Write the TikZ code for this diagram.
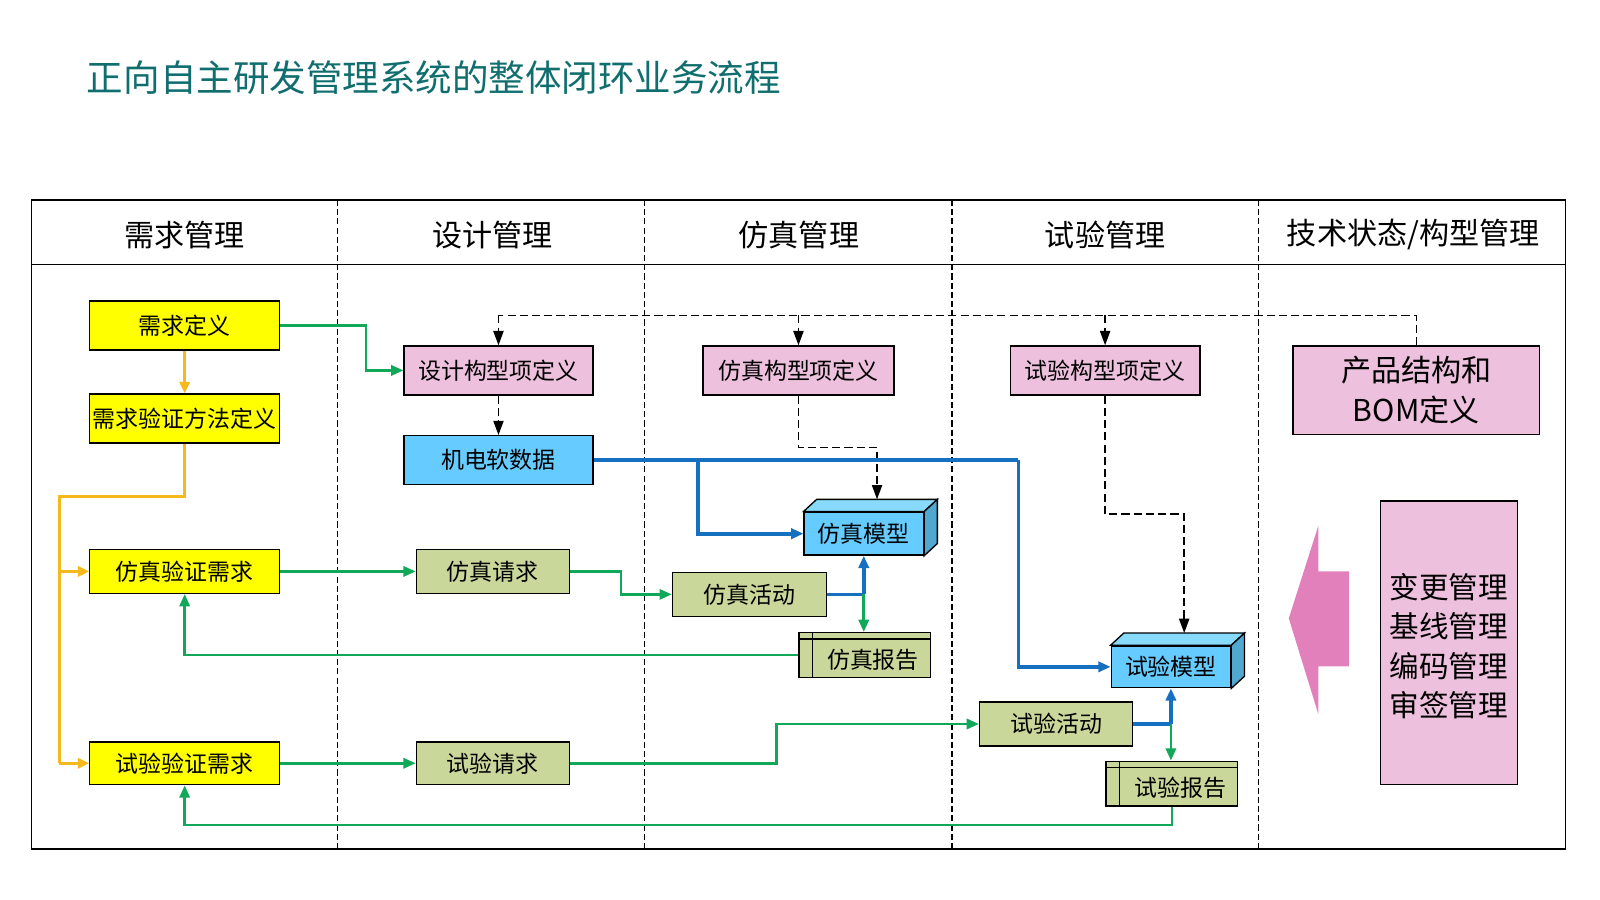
\documentclass[tikz,border=0pt]{standalone}
\usepackage{fontspec}
\setmainfont{Noto Sans CJK SC}
\usetikzlibrary{arrows.meta,calc}
\newcommand\fsz[1]{\fontsize{#1}{#1}\selectfont}
\definecolor{yelc}{RGB}{255,255,0}
\definecolor{pinkc}{RGB}{237,192,221}
\definecolor{bluec}{RGB}{102,204,255}
\definecolor{bluetop}{RGB}{135,218,250}
\definecolor{blueside}{RGB}{80,168,208}
\definecolor{grnc}{RGB}{201,215,155}
\definecolor{grnl}{RGB}{18,168,90}
\definecolor{orgl}{RGB}{245,185,30}
\definecolor{blul}{RGB}{22,112,192}
\definecolor{titlec}{RGB}{16,110,110}
\definecolor{bigarrow}{RGB}{226,128,188}
\tikzset{
  boxs/.style={draw=black,line width=1.3pt,inner sep=0pt,font=\fsz{22.5}},
  ybox/.style={boxs,fill=yelc},
  pbox/.style={boxs,fill=pinkc},
  bbox/.style={boxs,fill=bluec},
  gbox/.style={boxs,fill=grnc},
  repbox/.style={gbox,text height=28pt},
  hdr/.style={inner sep=0pt,font=\fsz{29.5}},
  gline/.style={draw=grnl,line width=2.6pt},
  garr/.style={gline,-{Triangle[length=12pt,width=10pt]}},
  oline/.style={draw=orgl,line width=3pt},
  oarr/.style={oline,-{Triangle[length=11pt,width=10pt]}},
  bline/.style={draw=blul,line width=3.6pt},
  barr/.style={bline,-{Triangle[length=12pt,width=10pt]}},
  dline/.style={draw=black,line width=1.4pt,dash pattern=on 8pt off 4pt},
  darr/.style={dline,-{Triangle[length=14pt,width=10pt]}},
  divl/.style={draw=black,line width=1.1pt,dash pattern=on 6pt off 3pt},
}
\begin{document}
\begin{tikzpicture}[x=1pt,y=-1pt]
\useasboundingbox (0,0) rectangle (1568,882);
% title
\node[anchor=west,inner sep=0pt,font=\fsz{35.8},text=titlec] (title) at (85,76) {正向自主研发管理系统的整体闭环业务流程};
% frame
\draw[line width=1.4pt] (31,196) rectangle (1534,832);
\draw[line width=1.4pt] (31,259) -- (1534,259);
\foreach \x in {331,632,933,1233} \draw[divl] (\x,196) -- (\x,832);
% headers
\node[hdr] (h1) at (181,230) {需求管理};
\node[hdr] (h2) at (483,230) {设计管理};
\node[hdr] (h3) at (783,230) {仿真管理};
\node[hdr] (h4) at (1083,230) {试验管理};
\node[hdr] (h5) at (1385,230) {技术状态/构型管理};
% requirement column
\node[ybox,minimum width=186,minimum height=48] (req) at (181,319) {需求定义};
\node[ybox,minimum width=186,minimum height=48] (reqm) at (181,410) {需求验证方法定义};
\node[ybox,minimum width=186,minimum height=43] (simreq) at (181,560) {仿真验证需求};
\node[ybox,minimum width=186,minimum height=42] (tstreq) at (181,748) {试验验证需求};
% design column
\node[pbox,minimum width=185,minimum height=48] (dcfg) at (488.5,363) {设计构型项定义};
\node[bbox,minimum width=185,minimum height=48] (emsd) at (488.5,451) {机电软数据};
\node[gbox,minimum width=150,minimum height=43] (simr) at (483,560) {仿真请求};
\node[gbox,minimum width=150,minimum height=42] (tstr) at (483,748) {试验请求};
% simulation column
\node[pbox,minimum width=187,minimum height=48] (scfg) at (782.5,363) {仿真构型项定义};
\node[bbox,minimum width=117,minimum height=42] (smod) at (846.5,523) {仿真模型};
\fill[bluetop,draw=black,line width=1.3pt] (smod.north west) -- ++(13,-12) -- ($(smod.north east)+(13,-12)$) -- (smod.north east) -- cycle;
\fill[blueside,draw=black,line width=1.3pt] (smod.north east) -- ++(13,-12) -- ($(smod.south east)+(13,-12)$) -- (smod.south east) -- cycle;
\node[gbox,minimum width=151,minimum height=43] (sact) at (734.5,582.5) {仿真活动};
\node[repbox,minimum width=129,minimum height=44] (srep) at (847.5,642) {\hspace*{16pt}仿真报告};
\draw[line width=1.3pt] ($(srep.north west)+(14,0)$) -- ($(srep.south west)+(14,0)$);
\draw[line width=1.3pt] ($(srep.north west)+(0,7)$) -- ($(srep.north east)+(0,7)$);
% test column
\node[pbox,minimum width=186,minimum height=48] (tcfg) at (1083,363) {试验构型项定义};
\node[bbox,minimum width=117,minimum height=41] (tmod) at (1147.5,653.5) {试验模型};
\fill[bluetop,draw=black,line width=1.3pt] (tmod.north west) -- ++(13,-12) -- ($(tmod.north east)+(13,-12)$) -- (tmod.north east) -- cycle;
\fill[blueside,draw=black,line width=1.3pt] (tmod.north east) -- ++(13,-12) -- ($(tmod.south east)+(13,-12)$) -- (tmod.south east) -- cycle;
\node[gbox,minimum width=150,minimum height=43] (tact) at (1035,709.5) {试验活动};
\node[repbox,minimum width=129,minimum height=44] (trep) at (1148.5,768) {\hspace*{16pt}试验报告};
\draw[line width=1.3pt] ($(trep.north west)+(14,0)$) -- ($(trep.south west)+(14,0)$);
\draw[line width=1.3pt] ($(trep.north west)+(0,7)$) -- ($(trep.north east)+(0,7)$);
% configuration column
\node[pbox,minimum width=242,minimum height=87,align=center,font=\fontsize{29.5}{39}\selectfont] (bom) at (1388,382.5) {产品结构和\\BOM定义};
\node[pbox,minimum width=134,minimum height=278,align=center,font=\fontsize{29}{38.7}\selectfont] (mgmt) at (1420,630) {\rule{0pt}{3pt}\\[-11pt]变更管理\\基线管理\\编码管理\\审签管理};
\fill[bigarrow] (1263,606) -- (1292,515) -- (1292,560) -- (1322,560) -- (1322,653) -- (1292,653) -- (1292,700) -- cycle;
% dashed configuration links
\coordinate (dtop) at (1388,309);
\draw[dline] (bom.north) -- (dtop) -- (dcfg.north |- dtop);
\draw[darr] (dcfg.north |- dtop) -- (dcfg.north);
\draw[darr] (scfg.north |- dtop) -- (scfg.north);
\draw[darr] (tcfg.north |- dtop) -- (tcfg.north);
\draw[darr] (dcfg.south) -- (emsd.north);
\coordinate (smodtop) at ($(smod.north)+(13,-12)$);
\coordinate (tmodtop) at ($(tmod.north)+(13,-12)$);
\draw[darr] (scfg.south) |- ($(scfg.south) + (0,51)$) -| (smodtop);
\draw[darr] (tcfg.south) |- ($(tcfg.south) + (0,116)$) -| (tmodtop);
% orange
\draw[oarr] (req.south) -- (reqm.north);
\coordinate (ol) at (58,487);
\draw[oline] (reqm.south) |- (ol) -- (ol |- tstreq.west);
\draw[oarr] (ol |- simreq.west) -- (simreq.west);
\draw[oarr] (ol |- tstreq.west) -- (tstreq.west);
% green
\draw[garr] (req.east) -- ++(84,0) |- (dcfg.west);
\draw[garr] (simreq.east) -- (simr.west);
\draw[garr] (tstreq.east) -- (tstr.west);
\draw[garr] (simr.east) -- ++(50,0) |- (sact.west);
\draw[garr] (tstr.east) -- ++(202,0) |- (tact.west);
\draw[garr] (srep.west) -| (simreq.south);
\draw[garr] (trep.south) -- ++(0,18) -| (tstreq.south);
% blue
\coordinate (bj) at (684,451);
\draw[bline] (emsd.east) -- (998,451);
\draw[barr] (998,451) |- (tmod.west);
\draw[barr] (bj) |- (smod.west);
\coordinate (sj) at (smod.south |- sact.east);
\draw[bline] (sact.east) -- (sj);
\draw[barr] (sj) -- (smod.south);
\draw[garr] (sj) -- (sj |- srep.north);
\coordinate (tj) at (tmod.south |- tact.east);
\draw[bline] (tact.east) -- (tj);
\draw[barr] (tj) -- (tmod.south);
\draw[garr] (tj) -- (tj |- trep.north);
\end{tikzpicture}
\end{document}
